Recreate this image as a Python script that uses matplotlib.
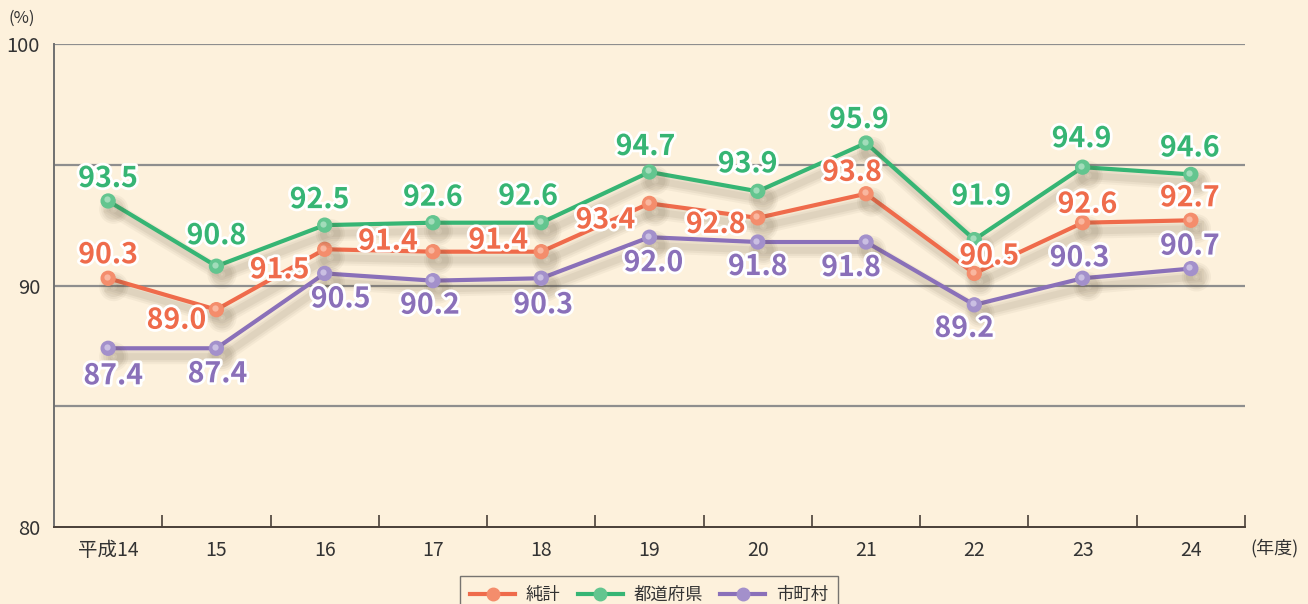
import numpy as np
import matplotlib
matplotlib.use("Agg")
import matplotlib.pyplot as plt
import matplotlib.patheffects as pe
from matplotlib.transforms import offset_copy
from matplotlib.lines import Line2D

plt.rcParams['font.family'] = ['Noto Sans CJK JP', 'DejaVu Sans']

years = ['平成14', '15', '16', '17', '18', '19', '20', '21', '22', '23', '24']
junkei = [90.3, 89.0, 91.5, 91.4, 91.4, 93.4, 92.8, 93.8, 90.5, 92.6, 92.7]
todofuken = [93.5, 90.8, 92.5, 92.6, 92.6, 94.7, 93.9, 95.9, 91.9, 94.9, 94.6]
shichoson = [87.4, 87.4, 90.5, 90.2, 90.3, 92.0, 91.8, 91.8, 89.2, 90.3, 90.7]
names = ['純計', '都道府県', '市町村']

# label offsets in pixels (dx, dy) relative to each point
off_junkei = [(0, 23), (-40, -11), (-45, -21), (-45, 10), (-43, 11), (-44, -17),
              (-42, -7), (-14, 21), (15, 17), (5, 18), (-1, 22)]
off_todofuken = [(0, 22), (0, 30), (-5, 25), (0, 25), (-13, 26), (-4, 25),
                 (-10, 27), (-7, 23), (7, 43), (-1, 28), (-1, 26)]
off_shichoson = [(5, -28), (1, -26), (16, -26), (-3, -25), (2, -27), (4, -26),
                 (0, -25), (-15, -26), (-10, -24), (-3, 20), (-1, 22)]

bg = '#fdf1dc'
line_cols = ['#ef6b4b', '#36b574', '#8a70b9']
mark_cols = ['#f48d6c', '#63c58f', '#a390cb']
hi_cols = ['#fbc2ad', '#b2e3c6', '#d4cbe8']

fig = plt.figure(figsize=(13.08, 6.04), dpi=100, facecolor=bg)
ax = fig.add_axes([54 / 1308, 77 / 604, (1245 - 54) / 1308, (527 - 44) / 604])
ax.set_facecolor(bg)

x = np.arange(len(years))
ax.set_xlim(-0.5, 10.5)
ax.set_ylim(80, 100)

for yv in [85, 90, 95, 100]:
    ax.axhline(yv, color='#8e8e8e', lw=1.6, zorder=1)

series = [junkei, todofuken, shichoson]
offsets = [off_junkei, off_todofuken, off_shichoson]
# soft drop shadow built from a few wide, faint layers
shadow = [pe.SimpleLineShadow(offset=(4, -6), shadow_color='#5a4a30', alpha=0.05, linewidth=11),
          pe.SimpleLineShadow(offset=(4, -6), shadow_color='#5a4a30', alpha=0.06, linewidth=8),
          pe.SimpleLineShadow(offset=(4, -6), shadow_color='#5a4a30', alpha=0.07, linewidth=5),
          pe.Normal()]

for k, vals in enumerate(series):
    ax.plot(x, vals, color=line_cols[k], lw=3, marker='o', ms=10,
            mfc=mark_cols[k], mec=mark_cols[k], zorder=3 + k * 0.1,
            path_effects=shadow)
    hi = offset_copy(ax.transData, fig=fig, x=-1.5, y=1.5, units='dots')
    ax.plot(x, vals, ls='none', marker='o', ms=4.5, mfc=hi_cols[k], mec='none',
            alpha=0.8, transform=hi, zorder=3.05 + k * 0.1)
    for i, v in enumerate(vals):
        dx, dy = offsets[k][i]
        ax.annotate(f'{v:.1f}', (i, v), xytext=(dx, dy), textcoords='offset pixels',
                    ha='center', va='center', fontsize=20.5, fontweight='bold',
                    color=line_cols[k], zorder=6,
                    path_effects=[pe.withStroke(linewidth=4, foreground='white')])

ax.spines['top'].set_visible(False)
ax.spines['right'].set_visible(False)
ax.spines['left'].set_color('#707070')
ax.spines['left'].set_linewidth(1.4)
ax.spines['bottom'].set_color('#4a4038')
ax.spines['bottom'].set_linewidth(1.4)

ax.set_yticks([80, 90, 100])
ax.tick_params(axis='y', length=0, pad=10, labelsize=14.5, labelcolor='#333333')
ax.set_xticks(x)
ax.set_xticklabels(years)
ax.tick_params(axis='x', which='major', length=0, pad=9, labelsize=14, labelcolor='#333333')
ax.set_xticks(np.arange(0.5, 11, 1), minor=True)
ax.tick_params(axis='x', which='minor', direction='in', length=9, width=1.2, color='#4a4038')

fig.text(22 / 1308, 1 - 18 / 604, '(%)', fontsize=12, color='#333333', ha='center', va='center')
fig.text(1274 / 1308, 1 - 548 / 604, '(年度)', fontsize=13, color='#333333', ha='center', va='center')

handles = [Line2D([], [], color=line_cols[k], lw=3, marker='o', ms=9,
                  mfc=mark_cols[k], mec=mark_cols[k]) for k in range(3)]
leg = fig.legend(handles, names, loc='upper center', bbox_to_anchor=(649 / 1308, 1 - 567 / 604),
                 ncol=3, frameon=True, fancybox=False, facecolor=bg, edgecolor='#555555',
                 fontsize=12.5, handlelength=2.6, columnspacing=1.0, borderpad=0.6,
                 handletextpad=0.6)
leg.get_frame().set_linewidth(1.0)
for t in leg.get_texts():
    t.set_color('#333333')

fig.savefig('out.png', dpi=100, facecolor=bg)
